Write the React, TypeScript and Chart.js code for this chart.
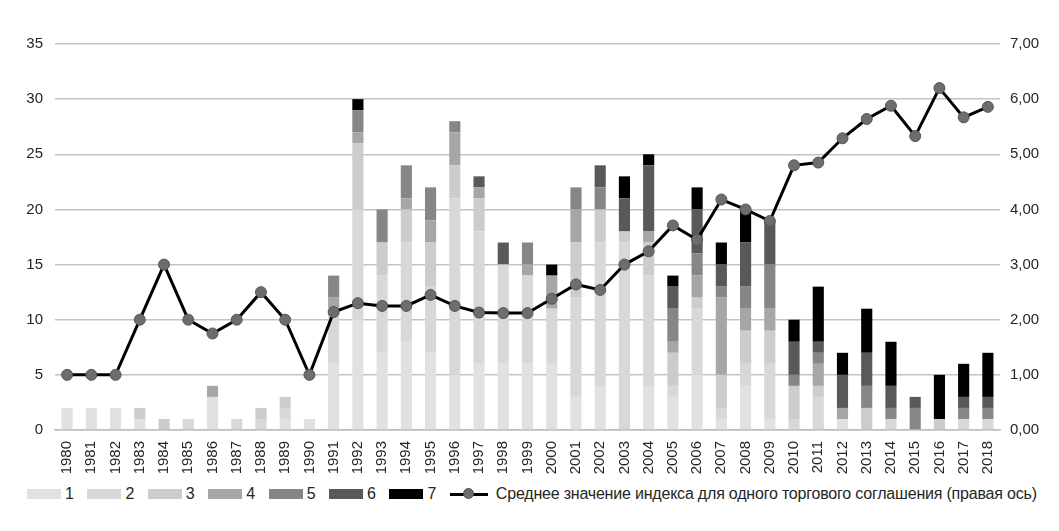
import React, { useEffect, useRef } from "react";
import { Chart, registerables } from "chart.js";

Chart.register(...registerables);

const years = [
  "1980", "1981", "1982", "1983", "1984", "1985", "1986", "1987", "1988", "1989",
  "1990", "1991", "1992", "1993", "1994", "1995", "1996", "1997", "1998", "1999",
  "2000", "2001", "2002", "2003", "2004", "2005", "2006", "2007", "2008", "2009",
  "2010", "2011", "2012", "2013", "2014", "2015", "2016", "2017", "2018",
];

// number of agreements by index value (1..7)
const idx1 = [2, 2, 2, 1, 0, 0, 3, 0, 0, 1, 1, 6, 10, 7, 8, 7, 5, 6, 6, 6, 6, 3, 4, 0, 4, 3, 5, 1, 4, 1, 0, 0, 1, 0, 0, 0, 0, 0, 0];
const idx2 = [0, 0, 0, 0, 0, 1, 0, 1, 1, 1, 0, 5, 10, 7, 9, 6, 16, 12, 9, 8, 5, 9, 13, 17, 10, 1, 6, 1, 2, 5, 1, 3, 0, 0, 1, 0, 0, 1, 1];
const idx3 = [0, 0, 0, 1, 1, 0, 0, 0, 1, 1, 0, 0, 6, 3, 3, 4, 3, 3, 0, 0, 0, 5, 3, 1, 3, 3, 1, 3, 3, 3, 3, 1, 0, 2, 0, 0, 1, 0, 0];
const idx4 = [0, 0, 0, 0, 0, 0, 1, 0, 0, 0, 0, 1, 1, 0, 1, 2, 3, 1, 0, 1, 3, 3, 0, 0, 1, 1, 2, 7, 2, 2, 0, 2, 1, 0, 0, 0, 0, 0, 0];
const idx5 = [0, 0, 0, 0, 0, 0, 0, 0, 0, 0, 0, 2, 2, 3, 3, 3, 1, 0, 0, 2, 0, 2, 2, 0, 0, 3, 2, 1, 2, 4, 1, 1, 0, 2, 1, 2, 0, 1, 1];
const idx6 = [0, 0, 0, 0, 0, 0, 0, 0, 0, 0, 0, 0, 0, 0, 0, 0, 0, 1, 2, 0, 0, 0, 2, 3, 6, 2, 4, 2, 4, 4, 3, 1, 3, 3, 2, 1, 0, 1, 1];
const idx7 = [0, 0, 0, 0, 0, 0, 0, 0, 0, 0, 0, 0, 1, 0, 0, 0, 0, 0, 0, 0, 1, 0, 0, 2, 1, 1, 2, 2, 3, 0, 2, 5, 2, 4, 4, 0, 4, 3, 4];

// average index per agreement (right axis)
const avgIndex = [
  1.0, 1.0, 1.0, 2.0, 3.0, 2.0, 1.75, 2.0, 2.5, 2.0,
  1.0, 2.14, 2.3, 2.25, 2.25, 2.45, 2.25, 2.13, 2.12, 2.12,
  2.38, 2.64, 2.54, 3.0, 3.24, 3.71, 3.45, 4.18, 4.0, 3.79,
  4.8, 4.85, 5.29, 5.64, 5.88, 5.33, 6.2, 5.67, 5.86,
];

const seriesNames = ["1", "2", "3", "4", "5", "6", "7"];
const lineName = "Среднее значение индекса для одного торгового соглашения (правая ось)";
const seriesColors = ["#e1e1e1", "#d8d8d8", "#cccccc", "#a6a6a6", "#868686", "#595959", "#000000"];

const FONT = "'Liberation Sans Narrow', 'Arial Narrow', 'Liberation Sans', Arial, sans-serif";
const TEXT = "#262626";

export default function App() {
  const ref = useRef<HTMLCanvasElement | null>(null);

  useEffect(() => {
    if (!ref.current) return;
    const series = [idx1, idx2, idx3, idx4, idx5, idx6, idx7];
    const barSets = series.map((d, i) => ({
      type: "bar" as const,
      label: seriesNames[i],
      data: d,
      backgroundColor: seriesColors[i],
      borderWidth: 0,
      stack: "s",
      yAxisID: "y",
      order: 1,
      categoryPercentage: 1,
      barPercentage: 0.46,
    }));
    const chart = new Chart(ref.current, {
      type: "bar",
      data: {
        labels: years,
        datasets: [
          ...barSets,
          {
            type: "line" as const,
            label: lineName,
            data: avgIndex,
            yAxisID: "y1",
            borderColor: "#000000",
            borderWidth: 3,
            pointRadius: 5.5,
            pointBackgroundColor: "#6d6d6d",
            pointBorderColor: "#555555",
            pointBorderWidth: 1,
            order: 0,
            tension: 0,
          } as any,
        ],
      },
      options: {
        responsive: false,
        animation: false,
        layout: { padding: { top: 44, left: 0, right: 0, bottom: 0 } },
        plugins: {
          legend: { display: false },
          tooltip: { enabled: false },
        },
        scales: {
          x: {
            stacked: true,
            grid: { display: false },
            border: { display: true, color: "#bdbdbd", width: 1.5 },
            ticks: {
              color: TEXT,
              font: { family: FONT, size: 15 },
              minRotation: 90,
              maxRotation: 90,
              autoSkip: false,
              padding: 3,
            },
            afterFit: (s: any) => {
              s.height = 50;
            },
          },
          y: {
            stacked: true,
            position: "left",
            min: 0,
            max: 35,
            ticks: {
              stepSize: 5,
              color: TEXT,
              font: { family: FONT, size: 15 },
              padding: 12,
            },
            grid: { color: "#c3c3c3", lineWidth: 1.5, drawTicks: false },
            border: { display: false },
            afterFit: (s: any) => {
              s.width = 55;
            },
          },
          y1: {
            position: "right",
            min: 0,
            max: 7,
            ticks: {
              stepSize: 1,
              color: TEXT,
              font: { family: FONT, size: 15 },
              padding: 10,
              callback: (v: any) => Number(v).toFixed(2).replace(".", ","),
            },
            grid: { display: false, drawTicks: false },
            border: { display: false },
            afterFit: (s: any) => {
              s.width = 59;
            },
          },
        },
      },
    });
    return () => chart.destroy();
  }, []);

  const itemStyle: React.CSSProperties = { display: "flex", alignItems: "center", marginRight: 13.5 };
  return (
    <div style={{ position: "absolute", left: 0, top: 0, width: 1059, height: 531, background: "#fff" }}>
      <canvas ref={ref} width={1059} height={480} style={{ display: "block" }} />
      <div
        style={{
          position: "absolute",
          left: 27,
          top: 485,
          display: "flex",
          alignItems: "center",
          fontFamily: FONT,
          fontSize: 16,
          color: TEXT,
          whiteSpace: "nowrap",
        }}
      >
        {seriesNames.map((n, i) => (
          <div key={n} style={itemStyle}>
            <span style={{ display: "inline-block", width: 34, height: 10, background: seriesColors[i], marginRight: 4 }} />
            <span>{n}</span>
          </div>
        ))}
        <div style={{ display: "flex", alignItems: "center" }}>
          <span style={{ position: "relative", display: "inline-block", width: 38, height: 12, marginRight: 8 }}>
            <span style={{ position: "absolute", left: 0, top: 4.5, width: 38, height: 3, background: "#000" }} />
            <span
              style={{
                position: "absolute",
                left: 13,
                top: 0,
                width: 11,
                height: 11,
                borderRadius: "50%",
                background: "#6d6d6d",
                border: "1px solid #555",
                boxSizing: "border-box",
              }}
            />
          </span>
          <span style={{ letterSpacing: "-0.2px" }}>{lineName}</span>
        </div>
      </div>
    </div>
  );
}
